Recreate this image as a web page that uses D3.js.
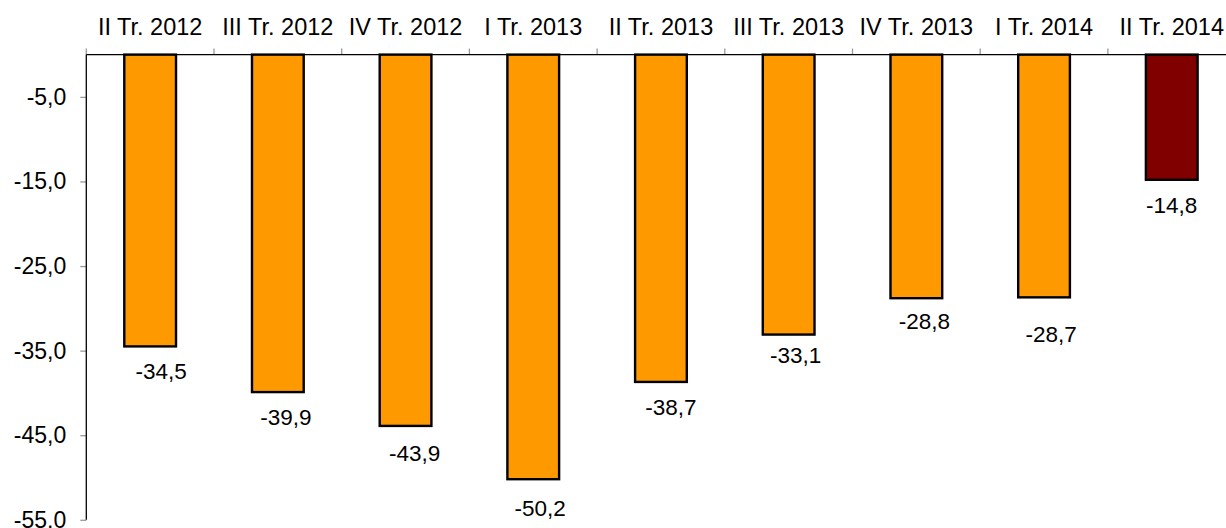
<!DOCTYPE html>
<html>
<head>
<meta charset="utf-8">
<script src="https://cdn.jsdelivr.net/npm/d3@7/dist/d3.min.js"></script>
<style>
html,body{margin:0;padding:0;background:#fff;overflow:hidden;}
svg{display:block;font-family:"Liberation Sans",Arial,sans-serif;}
</style>
</head>
<body>
<svg id="chart" width="1226" height="528"></svg>
<script>
const categories = ["II Tr. 2012","III Tr. 2012","IV Tr. 2012","I Tr. 2013","II Tr. 2013","III Tr. 2013","IV Tr. 2013","I Tr. 2014","II Tr. 2014"];
const values = [-34.5,-39.9,-43.9,-50.2,-38.7,-33.1,-28.8,-28.7,-14.8];
const highlight = [false,false,false,false,false,false,false,false,true];
const yTicks = [-5,-15,-25,-35,-45,-55];
// label nudges (dx, dy) relative to default placement below bar end
const labelNudgeX = [11,8,9,7,10,7,8,7,0];
const labelNudgeY = [0,0,2,4,0,-4,-2,12,0];

(function(){
const svg = d3.select("#chart");
const pLeft = 86.3, pTop = 54.6, plotW = 9*127.7, pBottom = 519.8;

const x = d3.scaleBand().domain(categories).range([pLeft, pLeft+plotW]).paddingInner(0.595).paddingOuter(0.2975);
const y = d3.scaleLinear().domain([0,-55]).range([pTop,pBottom]);
const fmt = v => d3.format(".1f")(v).replace(".", ",").replace("−","-");

// bars
svg.append("g").selectAll("rect").data(values).join("rect")
  .attr("x",(d,i)=>x(categories[i]))
  .attr("y",y(0))
  .attr("width",x.bandwidth())
  .attr("height",d=>y(d)-y(0))
  .attr("fill",(d,i)=>highlight[i]?"#800000":"#FF9900")
  .attr("stroke","#000").attr("stroke-width",2.4);

// top axis (categories)
const xStep = x.step();
const topG = svg.append("g");
topG.selectAll("line.tick").data(d3.range(categories.length+1)).join("line")
  .attr("x1",i=>pLeft+i*xStep).attr("x2",i=>pLeft+i*xStep)
  .attr("y1",pTop-6).attr("y2",pTop).attr("stroke","#999").attr("stroke-width",1.3);
topG.append("line").attr("x1",pLeft).attr("x2",pLeft+plotW).attr("y1",pTop).attr("y2",pTop)
  .attr("stroke","#000").attr("stroke-width",1.3);
topG.selectAll("text").data(categories).join("text")
  .attr("x",d=>x(d)+x.bandwidth()/2).attr("y",35)
  .attr("text-anchor","middle").attr("font-size",23.5).attr("fill","#000").text(d=>d);

// left axis
const yAxis = d3.axisLeft(y).tickValues(yTicks).tickSize(6).tickFormat(fmt);
const la = svg.append("g").attr("transform",`translate(${pLeft},0)`).call(yAxis);
la.select(".domain").remove();
la.selectAll(".tick line").attr("stroke","#999").attr("stroke-width",1.3);
la.selectAll(".tick text").attr("font-size",23).attr("fill","#000").attr("x",-20)
  .attr("font-family","Liberation Sans, Arial, sans-serif");
svg.append("line").attr("x1",pLeft).attr("x2",pLeft).attr("y1",pTop).attr("y2",pBottom)
  .attr("stroke","#000").attr("stroke-width",1.3);

// value labels
svg.append("g").selectAll("text").data(values).join("text")
  .attr("x",(d,i)=>x(categories[i])+x.bandwidth()/2+labelNudgeX[i])
  .attr("y",(d,i)=>y(d)+25+labelNudgeY[i])
  .attr("dy","0.35em")
  .attr("text-anchor","middle").attr("font-size",22.5).attr("fill","#000")
  .text(d=>fmt(d));
})();
</script>
</body>
</html>
